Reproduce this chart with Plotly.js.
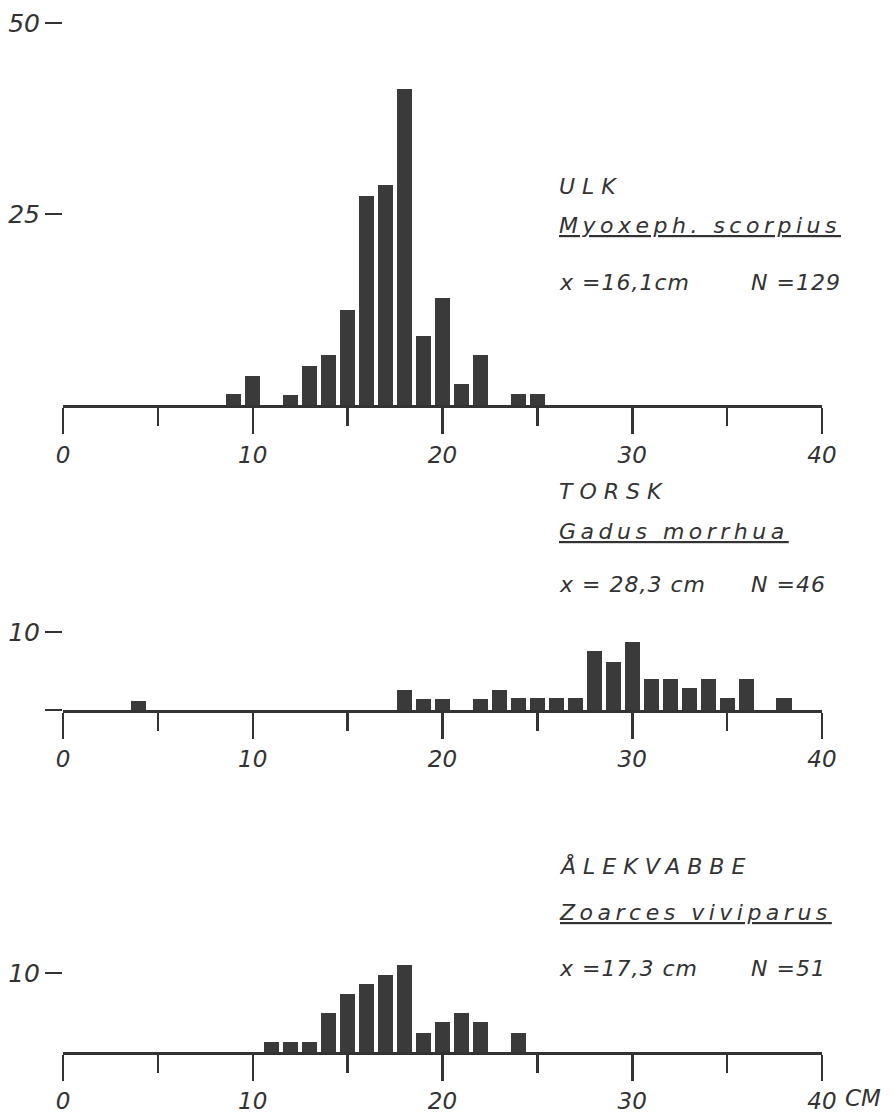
<!DOCTYPE html>
<html>
<head>
<meta charset="utf-8">
<script src="https://cdn.plot.ly/plotly-3.0.1.min.js"></script>
<style>html,body{margin:0;padding:0;background:#fff;}#chart{width:894px;height:1113px;}</style>
</head>
<body>
<div id="chart"></div>
<script>
// ---- data ----
var lengthsUlk = [9, 10, 12, 13, 14, 15, 16, 17, 18, 19, 20, 21, 22, 24, 25];
var valuesUlk = [1.4, 3.8, 1.3, 5.1, 6.5, 12.4, 27.4, 28.8, 41.3, 9.0, 14.0, 2.8, 6.5, 1.5, 1.5];

var lengthsTorsk = [4, 18, 19, 20, 22, 23, 24, 25, 26, 27, 28, 29, 30, 31, 32, 33, 34, 35, 36, 38];
var valuesTorsk = [1.2, 2.6, 1.4, 1.4, 1.4, 2.6, 1.5, 1.5, 1.6, 1.6, 7.6, 6.2, 8.7, 4.0, 4.0, 2.8, 4.0, 1.6, 4.0, 1.6];

var lengthsAle = [11, 12, 13, 14, 15, 16, 17, 18, 19, 20, 21, 22, 24];
var valuesAle = [1.3, 1.3, 1.3, 5.0, 7.4, 8.6, 9.7, 11.0, 2.4, 3.8, 4.9, 3.8, 2.4];

var xTickVals = [0, 10, 20, 30, 40];
var xTickText = ['0', '10', '20', '30', '40'];
var xMinorVals = [5, 15, 25, 35];

var yTickVals1 = [25, 50];
var yTickText1 = ['25', '50'];
var yTickVals2 = [0, 10];
var yTickText2 = ['', '10'];
var yTickVals3 = [10];
var yTickText3 = ['10'];

var names = ['ULK', 'TORSK', 'ÅLEKVABBE'];
var latin = ['Myoxeph. scorpius', 'Gadus morrhua', 'Zoarces viviparus'];
var means = ['x =16,1cm', 'x = 28,3 cm', 'x =17,3 cm'];
var counts = ['N =129', 'N =46', 'N =51'];
var unitLabel = 'CM';

// ---- styling ----
var ink = '#333333';
var barColor = '#3a3a3a';
var fam = '"DejaVu Sans", "Liberation Sans", sans-serif';
var H = 1113, W = 894;

function bars(x, y, xa, ya) {
  return {type: 'bar', x: x, y: y, xaxis: xa, yaxis: ya, width: 0.8,
    marker: {color: barColor, line: {width: 0}}, hoverinfo: 'x+y'};
}

function xAxis(anchor, standoff) {
  return {
    anchor: anchor, domain: [63 / W, 822 / W], range: [0, 40],
    showgrid: false, zeroline: false, showline: true, linewidth: 3, linecolor: ink,
    tickmode: 'array', tickvals: xTickVals, ticktext: xTickText,
    ticks: 'outside', ticklen: 26, tickwidth: 2.5, tickcolor: ink,
    minor: {tickmode: 'array', tickvals: xMinorVals, ticks: 'outside', ticklen: 18, tickwidth: 2.5, tickcolor: ink},
    tickfont: {family: fam, size: 23, color: ink, style: 'italic'},
    ticklabelstandoff: standoff, fixedrange: true
  };
}

function yAxis(anchor, basePx, pxPerUnit, top, vals, text) {
  var topPx = basePx - top * pxPerUnit;
  return {
    anchor: anchor, domain: [1 - basePx / H, 1 - topPx / H], range: [0, top],
    showgrid: false, zeroline: false, showline: false,
    tickmode: 'array', tickvals: vals, ticktext: text,
    ticks: 'outside', ticklen: 17, tickwidth: 2.5, tickcolor: ink,
    tickfont: {family: fam, size: 25, color: ink, style: 'italic'},
    fixedrange: true
  };
}

var data = [
  bars(lengthsUlk, valuesUlk, 'x', 'y'),
  bars(lengthsTorsk, valuesTorsk, 'x2', 'y2'),
  bars(lengthsAle, valuesAle, 'x3', 'y3')
];

function note(text, xPx, yPx, size, spacing, underline) {
  return {
    xref: 'paper', yref: 'paper', x: xPx / W, y: 1 - yPx / H,
    xanchor: 'left', yanchor: 'middle', showarrow: false,
    text: '<span style="letter-spacing:' + spacing + 'px">' + text + '</span>',
    font: {family: fam, size: size, color: ink, style: 'italic', lineposition: underline ? 'under' : 'none'}
  };
}

var textRows = [
  {name: 186, latin: 226, stat: 282},
  {name: 491, latin: 531, stat: 585},
  {name: 866, latin: 912, stat: 968}
];
var annotations = [];
for (var i = 0; i < 3; i++) {
  annotations.push(note(names[i], 557, textRows[i].name, 22, 7, false));
  annotations.push(note(latin[i], 557, textRows[i].latin, 22, 4.5, true));
  annotations.push(note(means[i], 557, textRows[i].stat, 22, 1, false));
  annotations.push(note(counts[i], 749, textRows[i].stat, 22, 1, false));
}
annotations.push({
  xref: 'x3', yref: 'paper', x: 40, y: 1 - 1098 / H, xanchor: 'left', yanchor: 'middle',
  xshift: 21, showarrow: false, text: unitLabel,
  font: {family: fam, size: 23, color: ink, style: 'italic'}
});

var layout = {
  width: W, height: H, margin: {l: 0, r: 0, t: 0, b: 0, pad: 0},
  paper_bgcolor: '#ffffff', plot_bgcolor: '#ffffff', showlegend: false,
  bargap: 0,
  xaxis: xAxis('y', 1), yaxis: yAxis('x', 405, 7.64, 52.5, yTickVals1, yTickText1),
  xaxis2: xAxis('y2', 0), yaxis2: yAxis('x2', 710, 7.8, 11.5, yTickVals2, yTickText2),
  xaxis3: xAxis('y3', 0), yaxis3: yAxis('x3', 1052, 7.9, 12, yTickVals3, yTickText3),
  annotations: annotations
};

Plotly.newPlot('chart', data, layout, {displayModeBar: false, staticPlot: true});
</script>
</body>
</html>
